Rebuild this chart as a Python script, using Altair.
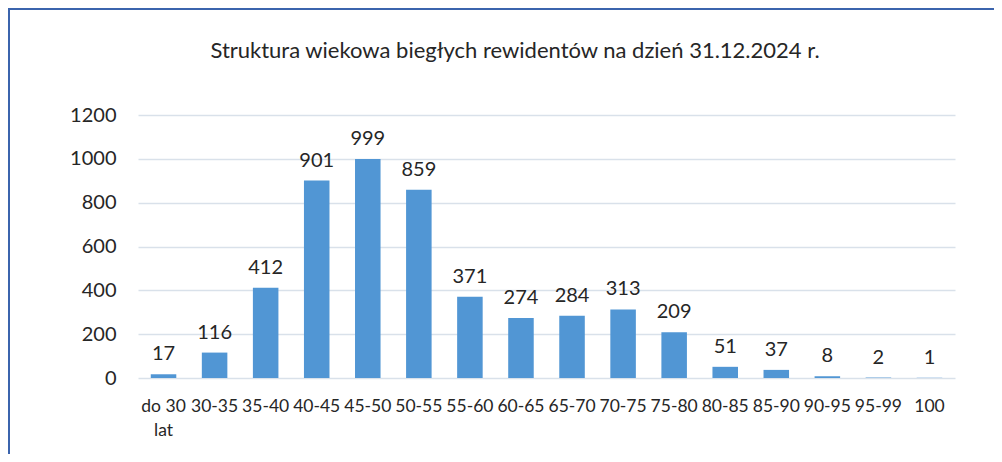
import altair as alt
import pandas as pd

categories = ["do 30 lat", "30-35", "35-40", "40-45", "45-50", "50-55", "55-60", "60-65",
              "65-70", "70-75", "75-80", "80-85", "85-90", "90-95", "95-99", "100"]
values = [17, 116, 412, 901, 999, 859, 371, 274, 284, 313, 209, 51, 37, 8, 2, 1]
y_ticks = [0, 200, 400, 600, 800, 1000, 1200]
title_text = "Struktura wiekowa biegłych rewidentów na dzień 31.12.2024 r."

df = pd.DataFrame({"grupa": categories, "liczba": values})

FONT = "Lato"
TXT = "#262626"
BAR = "#5196D4"

x_enc = alt.X("grupa:N", sort=None, title=None,
              scale=alt.Scale(paddingInner=0.5, paddingOuter=0.25),
              axis=alt.Axis(labelAngle=0, labelFontSize=17.5, labelFont=FONT, labelColor=TXT,
                            labelPadding=19, labelLineHeight=24, ticks=False, domain=False,
                            grid=False,
                            labelExpr="datum.value == 'do 30 lat' ? ['do 30', 'lat'] : datum.label"))
y_enc = alt.Y("liczba:Q", title=None,
              scale=alt.Scale(domain=[0, 1200], nice=False),
              axis=alt.Axis(values=y_ticks, format="d", labelFontSize=20, labelFont=FONT,
                            labelColor=TXT, labelPadding=22, ticks=False, domain=False, grid=True,
                            gridColor="#D9E1EA", gridWidth=1.5))

bars = alt.Chart(df).mark_bar(color=BAR).encode(x=x_enc, y=y_enc)

labels = alt.Chart(df).mark_text(font=FONT, fontSize=20, color=TXT, baseline="alphabetic",
                                 dy=-14).encode(x=alt.X("grupa:N", sort=None),
                                                y="liczba:Q", text="liczba:Q")

frame = alt.Chart(pd.DataFrame({"k": [0]})).mark_rect(
    filled=False, stroke="#3B64AD", strokeWidth=2, clip=False
).encode(x=alt.value(-129), x2=alt.value(1000), y=alt.value(-106), y2=alt.value(500))

title = alt.Chart(pd.DataFrame({"t": [title_text]})).mark_text(
    font=FONT, fontSize=22, color=TXT, align="center", baseline="middle"
).encode(text="t:N", x=alt.value(377), y=alt.value(-64))

chart = alt.layer(frame, bars, labels, title).properties(
    width=817, height=263,
    autosize=alt.AutoSizeParams(type="none"),
    padding={"left": 130, "top": 107, "right": 39, "bottom": 76},
).configure_view(stroke=None)

chart.save("out.html", embed_options={"renderer": "svg", "actions": False})
